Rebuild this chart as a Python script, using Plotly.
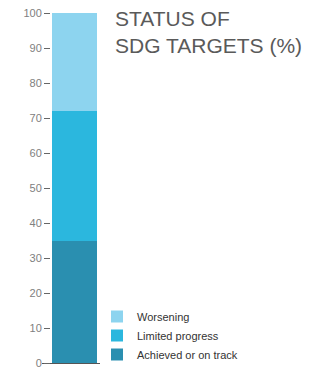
import plotly.graph_objects as go

categories = ["SDG targets"]
series_names = ["Achieved or on track", "Limited progress", "Worsening"]
series_values = [[35], [37], [28]]
colors = ["#2a8fb0", "#2bb7de", "#8dd4ef"]
tick_vals = [0, 10, 20, 30, 40, 50, 60, 70, 80, 90, 100]
title_lines = ["STATUS OF", "SDG TARGETS (%)"]

fig = go.Figure()
for name, vals, col in zip(series_names, series_values, colors):
    fig.add_trace(go.Bar(x=categories, y=vals, name=name,
                         marker=dict(color=col, line=dict(width=0)), width=1))

PLOT_TOP, PLOT_BOTTOM = 13, 363
PH = PLOT_BOTTOM - PLOT_TOP

fig.update_layout(
    width=325, height=368,
    barmode="stack", bargap=0,
    paper_bgcolor="white", plot_bgcolor="white",
    margin=dict(l=42, r=225, t=PLOT_TOP, b=368 - PLOT_BOTTOM, autoexpand=False),
    font=dict(family="Liberation Sans, Arial, sans-serif", color="#555555"),
    showlegend=True,
    legend=dict(
        xref="container", yref="paper", x=97/325, y=-6/PH,
        xanchor="left", yanchor="bottom",
        traceorder="reversed",
        font=dict(size=11, family="Liberation Sans Narrow, Liberation Sans, sans-serif", color="#333333"),
        bgcolor="rgba(0,0,0,0)", tracegroupgap=0,
    ),
    xaxis=dict(
        range=[-0.722, 0.567], showticklabels=False, ticks="",
        showline=True, linecolor="#555555", linewidth=1, showgrid=False, zeroline=False,
    ),
    yaxis=dict(
        range=[0, 100], tickvals=tick_vals, ticks="outside", ticklen=6, tickcolor="#666666",
        anchor="free", position=8/58, ticklabeloverflow="allow",
        tickfont=dict(size=11, color="#808080"), showgrid=False, zeroline=False, showline=False,
    ),
)
for line, cy in zip(title_lines, [19, 45]):
    fig.add_annotation(
        text=line, xref="paper", yref="paper",
        x=0, y=(PLOT_BOTTOM - cy) / PH, xanchor="left", yanchor="middle", showarrow=False, align="left",
        xshift=71, font=dict(size=21, color="#5a5a5a", family="Liberation Sans, Arial, sans-serif"),
    )
fig.write_html("out.html", config={"displayModeBar": False},
               post_script="document.body.style.margin='0';document.body.style.overflow='hidden';")
